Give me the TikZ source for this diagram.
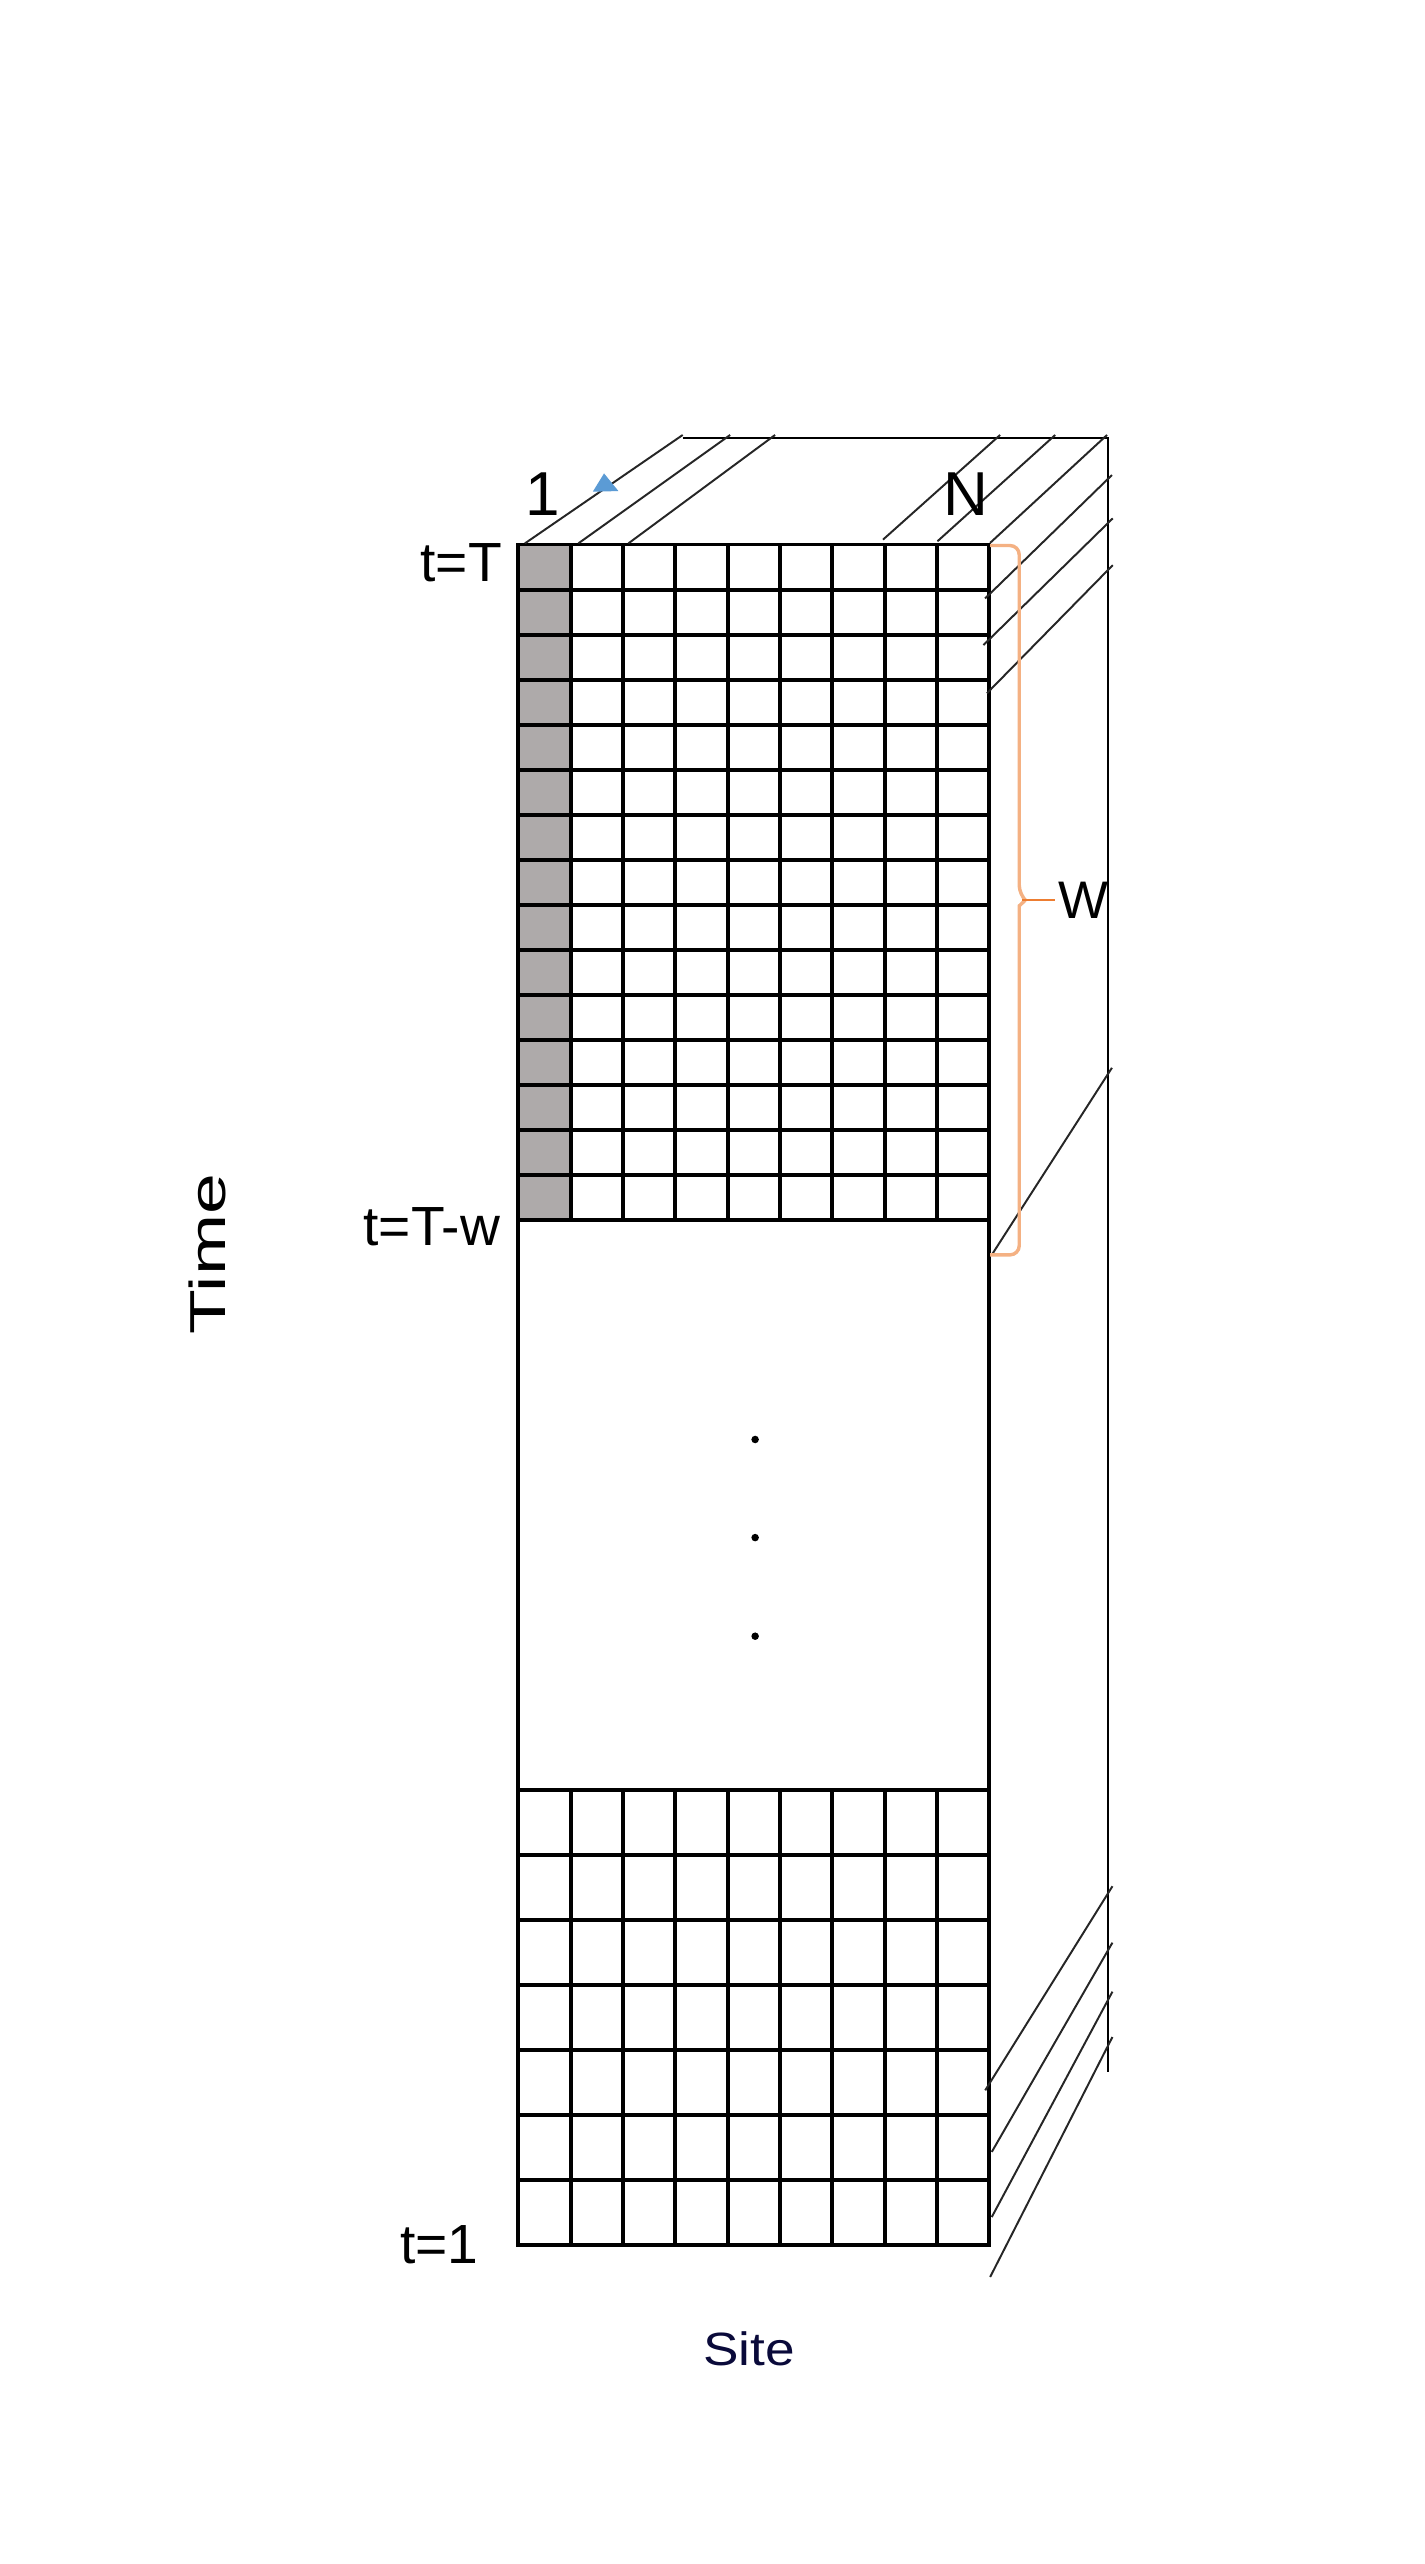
\documentclass[tikz,border=0pt]{standalone}
\usepackage{fontspec}
\setmainfont{Liberation Sans}
\usepackage{graphicx,xcolor}
\definecolor{Cell}{HTML}{AEAAAA}
\definecolor{Ink}{HTML}{0A0A3A}
\definecolor{Brace}{HTML}{F4B183}
\definecolor{Tick}{HTML}{ED7D31}
\definecolor{Mark}{HTML}{5B9BD5}
\begin{document}
\begin{tikzpicture}[x=0.25mm,y=-0.25mm,
gridline/.style={line width=1.7pt,line cap=rect},
depth/.style={line width=0.85pt,draw=black!85},
backline/.style={line width=1pt},
brace/.style={draw=Brace,line width=1.5pt},
lbl/.style={inner sep=0pt,anchor=base,font=\fontsize{24}{28}\selectfont}]
\useasboundingbox (0,0) rectangle (871,1568);
% front face
\fill[Cell] (317,333) rectangle (349,746);
\foreach \i in {0,...,9} {
  \draw[gridline] ({317+32*\i},333) -- ({317+32*\i},746);
  \draw[gridline] ({317+32*\i},1094.8) -- ({317+32*\i},1373);
}
\foreach \j in {0,...,15}
  \draw[gridline] (317,{333+413/15*\j}) -- (605,{333+413/15*\j});
\foreach \j in {0,...,7}
  \draw[gridline] (317,{1094.8+278.2/7*\j}) -- (605,{1094.8+278.2/7*\j});
\draw[gridline] (317,746) -- (317,1094.8) (605,746) -- (605,1094.8);
\foreach \y in {880.3,940.3,1000.6}
  \fill (461.8,\y) circle[radius=2.3];
% back edges
\draw[backline] (417.5,268) -- (677.5,268) -- (677.5,1267);
% receding lines
\foreach \xa/\ya/\xb/\yb in {321/332.3/417.5/266, 353.7/332.3/446.5/266,
  384.3/332.3/474/266, 540/330/611.6/266, 573.3/331/645.3/266,
  605.5/332/677/266, 602.4/366/680/290.5, 601.4/394.5/680.5/317,
  603.5/424/680.5/345.6, 606.5/767.4/680/653, 602.5/1278.3/680.3/1153.5,
  606.5/1316/680.3/1188, 606.5/1355.8/680.3/1218, 605.5/1392.5/680.3/1245.7}
  \draw[depth] (\xa,\ya) -- (\xb,\yb);
% window brace
\draw[brace] (605.5,333.6) [rounded corners=4] -| (623.3,547) [sharp corners]
  -- (627,550.5) -- (623.3,554) [rounded corners=4] |- (605.5,767.4);
\draw[Tick,line width=0.7pt] (625,550.5) -- (645.3,550.5);
\fill[Mark] (369.4,289.5) -- (362.5,300.7) -- (378.2,300.3) -- cycle;
% labels
\node[lbl] (top) at (282,355.8) {t=T};
\node[lbl] (win) at (264,761.5) {t=T-w};
\node[lbl] (first) at (268.6,1384.3) {t=1};
\node[lbl,font=\fontsize{27}{32}\selectfont] (one) at (332,315) {1};
\node[lbl,font=\fontsize{27}{32}\selectfont] (last) at (590.5,315) {N};
\node[lbl,font=\fontsize{23}{28}\selectfont] (wlen) at (662.7,561.7) {W};
\node[inner sep=0pt,rotate=90,font=\fontsize{22}{26}\selectfont] (time) at (127,767) {\scalebox{1.45}[1]{Time}};
\node[lbl,text=Ink,font=\fontsize{20.3}{24}\selectfont] (site) at (458,1446.5) {\scalebox{1.14}[1]{Site}};
\end{tikzpicture}
\end{document}
